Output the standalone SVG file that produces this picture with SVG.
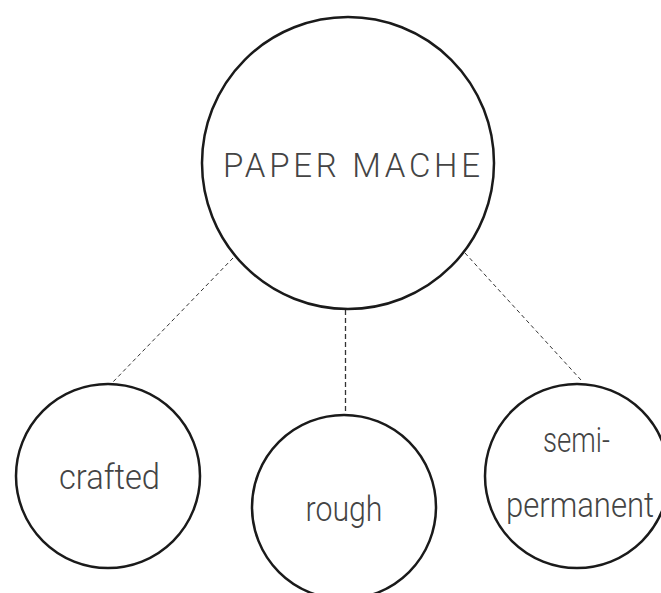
<svg xmlns="http://www.w3.org/2000/svg" width="661" height="593" viewBox="0 0 661 593">
<style>
.node{fill:#fff;stroke:#1a1a1a;stroke-width:2.5}
.lbl{font-family:Roboto,"Liberation Sans",sans-serif;font-weight:300;fill:#444;text-anchor:start}
.con{stroke:#333;stroke-width:1;stroke-dasharray:4 3;fill:none}
</style>
<rect width="661" height="593" fill="#fff"/>
<g id="connectors">
<line class="con" x1="233" y1="258" x2="112" y2="383"/>
<line class="con" x1="345.5" y1="310" x2="345.5" y2="415" style="stroke-width:1.3;stroke-dasharray:5 3"/>
<line class="con" x1="465" y1="253" x2="581" y2="380"/>
</g>
<g id="paper-mache">
<circle class="node" cx="348" cy="163" r="146"/>
<text class="lbl" x="223" y="177" font-size="33" textLength="257" lengthAdjust="spacing">PAPER MACHE</text>
</g>
<g id="crafted">
<circle class="node" cx="108" cy="476" r="92"/>
<text class="lbl" x="59" y="489" font-size="35" textLength="101" lengthAdjust="spacingAndGlyphs">crafted</text>
</g>
<g id="rough">
<circle class="node" cx="344" cy="507" r="92"/>
<text class="lbl" x="305.5" y="521" font-size="35" textLength="77" lengthAdjust="spacingAndGlyphs">rough</text>
</g>
<g id="semi-permanent">
<circle class="node" cx="577" cy="476" r="92"/>
<text class="lbl" x="543" y="452" font-size="35" textLength="67" lengthAdjust="spacingAndGlyphs">semi-</text>
<text class="lbl" x="506" y="517" font-size="35" textLength="148" lengthAdjust="spacingAndGlyphs">permanent</text>
</g>
</svg>
